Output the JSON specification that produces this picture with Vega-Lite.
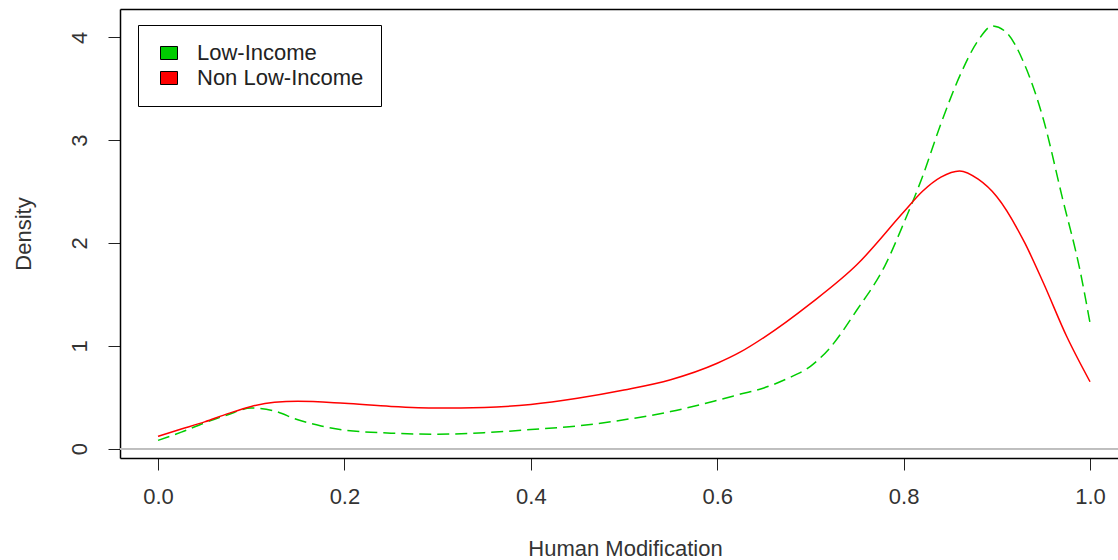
{
  "$schema": "https://vega.github.io/schema/vega-lite/v6.json",
  "autosize": "none",
  "padding": {"left": 120, "top": 9, "right": 0, "bottom": 102},
  "width": 998,
  "height": 449,
  "background": "white",
  "config": {
    "view": {"stroke": null},
    "font": "Liberation Sans",
    "axis": {"grid": false, "labelFont": "Liberation Sans", "titleFont": "Liberation Sans", "titleFontWeight": "normal"}
  },
  "datasets": {
    "dens": [
      {"x": 0.0, "density": 0.08, "group": "Low-Income"},
      {"x": 0.025, "density": 0.16, "group": "Low-Income"},
      {"x": 0.05, "density": 0.25, "group": "Low-Income"},
      {"x": 0.075, "density": 0.33, "group": "Low-Income"},
      {"x": 0.1, "density": 0.395, "group": "Low-Income"},
      {"x": 0.125, "density": 0.365, "group": "Low-Income"},
      {"x": 0.15, "density": 0.28, "group": "Low-Income"},
      {"x": 0.175, "density": 0.22, "group": "Low-Income"},
      {"x": 0.2, "density": 0.18, "group": "Low-Income"},
      {"x": 0.25, "density": 0.15, "group": "Low-Income"},
      {"x": 0.3, "density": 0.14, "group": "Low-Income"},
      {"x": 0.35, "density": 0.155, "group": "Low-Income"},
      {"x": 0.4, "density": 0.185, "group": "Low-Income"},
      {"x": 0.45, "density": 0.22, "group": "Low-Income"},
      {"x": 0.5, "density": 0.28, "group": "Low-Income"},
      {"x": 0.55, "density": 0.36, "group": "Low-Income"},
      {"x": 0.6, "density": 0.47, "group": "Low-Income"},
      {"x": 0.625, "density": 0.53, "group": "Low-Income"},
      {"x": 0.65, "density": 0.59, "group": "Low-Income"},
      {"x": 0.675, "density": 0.68, "group": "Low-Income"},
      {"x": 0.7, "density": 0.8, "group": "Low-Income"},
      {"x": 0.72, "density": 0.97, "group": "Low-Income"},
      {"x": 0.75, "density": 1.35, "group": "Low-Income"},
      {"x": 0.78, "density": 1.78, "group": "Low-Income"},
      {"x": 0.8, "density": 2.19, "group": "Low-Income"},
      {"x": 0.82, "density": 2.64, "group": "Low-Income"},
      {"x": 0.84, "density": 3.16, "group": "Low-Income"},
      {"x": 0.86, "density": 3.62, "group": "Low-Income"},
      {"x": 0.88, "density": 3.97, "group": "Low-Income"},
      {"x": 0.895, "density": 4.11, "group": "Low-Income"},
      {"x": 0.91, "density": 4.05, "group": "Low-Income"},
      {"x": 0.93, "density": 3.73, "group": "Low-Income"},
      {"x": 0.95, "density": 3.2, "group": "Low-Income"},
      {"x": 0.97, "density": 2.45, "group": "Low-Income"},
      {"x": 0.99, "density": 1.7, "group": "Low-Income"},
      {"x": 1.0, "density": 1.22, "group": "Low-Income"},
      {"x": 0.0, "density": 0.12, "group": "Non Low-Income"},
      {"x": 0.025, "density": 0.19, "group": "Non Low-Income"},
      {"x": 0.05, "density": 0.26, "group": "Non Low-Income"},
      {"x": 0.075, "density": 0.34, "group": "Non Low-Income"},
      {"x": 0.1, "density": 0.41, "group": "Non Low-Income"},
      {"x": 0.125, "density": 0.45, "group": "Non Low-Income"},
      {"x": 0.15, "density": 0.46, "group": "Non Low-Income"},
      {"x": 0.2, "density": 0.44, "group": "Non Low-Income"},
      {"x": 0.25, "density": 0.41, "group": "Non Low-Income"},
      {"x": 0.3, "density": 0.395, "group": "Non Low-Income"},
      {"x": 0.35, "density": 0.4, "group": "Non Low-Income"},
      {"x": 0.4, "density": 0.43, "group": "Non Low-Income"},
      {"x": 0.45, "density": 0.49, "group": "Non Low-Income"},
      {"x": 0.5, "density": 0.57, "group": "Non Low-Income"},
      {"x": 0.55, "density": 0.67, "group": "Non Low-Income"},
      {"x": 0.6, "density": 0.83, "group": "Non Low-Income"},
      {"x": 0.625, "density": 0.94, "group": "Non Low-Income"},
      {"x": 0.65, "density": 1.08, "group": "Non Low-Income"},
      {"x": 0.7, "density": 1.41, "group": "Non Low-Income"},
      {"x": 0.75, "density": 1.79, "group": "Non Low-Income"},
      {"x": 0.8, "density": 2.3, "group": "Non Low-Income"},
      {"x": 0.82, "density": 2.5, "group": "Non Low-Income"},
      {"x": 0.84, "density": 2.64, "group": "Non Low-Income"},
      {"x": 0.86, "density": 2.7, "group": "Non Low-Income"},
      {"x": 0.88, "density": 2.62, "group": "Non Low-Income"},
      {"x": 0.9, "density": 2.45, "group": "Non Low-Income"},
      {"x": 0.93, "density": 2.0, "group": "Non Low-Income"},
      {"x": 0.95, "density": 1.61, "group": "Non Low-Income"},
      {"x": 0.975, "density": 1.09, "group": "Non Low-Income"},
      {"x": 1.0, "density": 0.65, "group": "Non Low-Income"}
    ]
  },
  "data": {"name": "dens"},
  "resolve": {"axis": {"x": "independent", "y": "independent"}},
  "layer": [
    {
      "mark": {"type": "rule", "color": "#bebebe", "strokeWidth": 1},
      "encoding": {
        "y": {"datum": 0, "type": "quantitative", "scale": {"domain": [-0.0915, 4.2755], "nice": false, "zero": false}, "axis": null}
      }
    },
    {
      "transform": [{"filter": "datum.group == 'Low-Income'"}],
      "mark": {"type": "line", "strokeWidth": 1.5, "interpolate": "monotone", "color": "#00cd00", "strokeDash": [12, 6]},
      "encoding": {
        "x": {
          "field": "x", "type": "quantitative",
          "scale": {"domain": [-0.0408, 1.03], "nice": false, "zero": false},
          "axis": {
            "orient": "bottom", "values": [0, 0.2, 0.4, 0.6, 0.8, 1.0], "format": ".1f",
            "domain": true, "domainColor": "black", "domainWidth": 1.5,
            "ticks": true, "tickSize": 12, "tickColor": "#222", "tickWidth": 1,
            "labelFontSize": 22, "labelColor": "#333", "labelPadding": 16,
            "title": "Human Modification", "titleFontSize": 22, "titleColor": "#333",
            "titleX": 505, "titleY": 90, "titleAlign": "center", "titleBaseline": "middle"
          }
        },
        "y": {
          "field": "density", "type": "quantitative",
          "scale": {"domain": [-0.0915, 4.2755], "nice": false, "zero": false},
          "axis": {
            "orient": "left", "values": [0, 1, 2, 3, 4], "format": "d",
            "domain": true, "domainColor": "black", "domainWidth": 1.5,
            "ticks": true, "tickSize": 12, "tickColor": "#222", "tickWidth": 1,
            "labelFontSize": 22, "labelColor": "#333", "labelPadding": 17,
            "labelAngle": 270, "labelAlign": "center", "labelBaseline": "bottom",
            "title": "Density", "titleFontSize": 22, "titleColor": "#333",
            "titleAngle": 270, "titleX": -97, "titleY": 224.5, "titleAlign": "center", "titleBaseline": "middle"
          }
        }
      }
    },
    {
      "transform": [{"filter": "datum.group == 'Non Low-Income'"}],
      "mark": {"type": "line", "strokeWidth": 1.5, "interpolate": "monotone", "color": "#ff0000"},
      "encoding": {
        "x": {"field": "x", "type": "quantitative", "axis": null},
        "y": {"field": "density", "type": "quantitative", "axis": null}
      }
    },
    {
      "transform": [{"filter": "datum.x > 5"}],
      "mark": {"type": "point", "filled": true, "shape": "M-1,-0.765H1V0.765H-1Z", "size": 289},
      "encoding": {
        "x": {
          "field": "x", "type": "quantitative",
          "axis": {"orient": "top", "domain": true, "domainColor": "black", "domainWidth": 1.5, "ticks": false, "labels": false, "title": null}
        },
        "y": {"field": "density", "type": "quantitative", "axis": null},
        "fill": {
          "field": "group", "type": "nominal",
          "scale": {"domain": ["Low-Income", "Non Low-Income"], "range": ["#00cd00", "#ff0000"]},
          "legend": {
            "orient": "none", "legendX": 18, "legendY": 16, "title": null,
            "strokeColor": "black", "fillColor": "white", "padding": 17,
            "labelFont": "Liberation Sans", "labelFontSize": 22, "labelColor": "#222", "labelLimit": 0,
            "labelOffset": 17, "symbolOffset": 3, "rowPadding": 3,
            "symbolType": "M-1,-0.765H1V0.765H-1Z", "symbolSize": 289,
            "symbolStrokeColor": "black", "symbolStrokeWidth": 1, "symbolOpacity": 1
          }
        }
      }
    }
  ]
}
